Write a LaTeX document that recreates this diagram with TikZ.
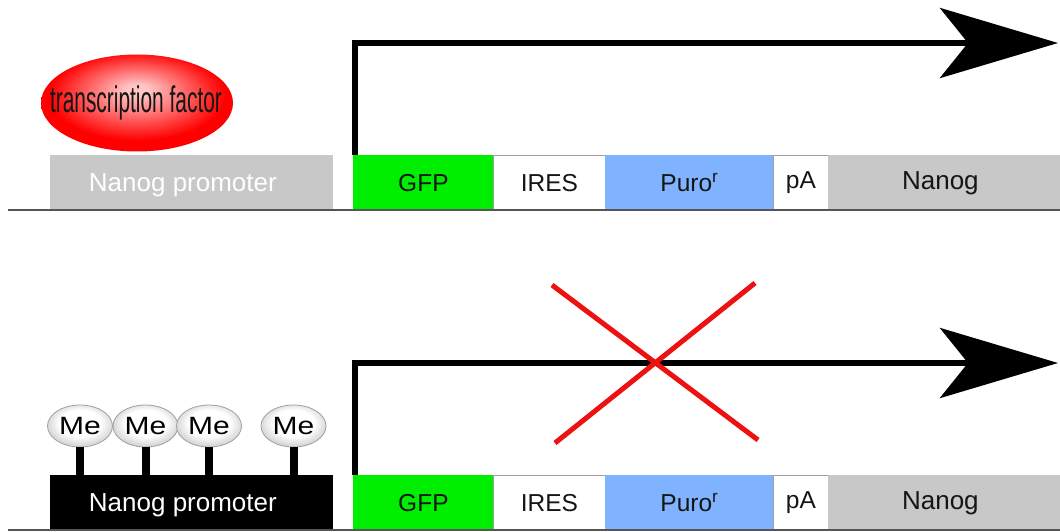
\documentclass[tikz,border=0pt]{standalone}
\usepackage{fontspec}
\setmainfont{Liberation Sans}
\usetikzlibrary{arrows.meta,shapes.geometric}

\definecolor{gfpgreen}{HTML}{00EE00}
\definecolor{puroblue}{HTML}{80B3FF}
\definecolor{boxgray}{HTML}{C8C8C8}
\definecolor{edgegray}{HTML}{A0A0A0}
\definecolor{dnagray}{HTML}{555555}
\definecolor{crossred}{HTML}{EE1111}
\definecolor{tfpink}{HTML}{FFC4C4}
\definecolor{megray}{HTML}{C4C4C4}
\definecolor{ink}{HTML}{151515}

% glossy fills, highlight a little above the centre
\pgfdeclareradialshading{tfglow}{\pgfpoint{0bp}{7bp}}{%
  color(0bp)=(tfpink); color(3bp)=(tfpink); color(23bp)=(red); color(50bp)=(red)}
\pgfdeclareradialshading{meglow}{\pgfpoint{0bp}{5bp}}{%
  color(0bp)=(white); color(16bp)=(white); color(30bp)=(megray); color(50bp)=(megray)}

\tikzset{
  lbl/.style={font=\fontsize{24.5}{28}\selectfont, text=ink},
  biglbl/.style={font=\fontsize{26}{30}\selectfont},
  seg/.style={rectangle, anchor=north west, inner sep=0pt, minimum height=55,
              draw=edgegray, line width=0.8pt, lbl},
  dna/.style={draw=dnagray, line width=1.8pt},
  tx/.style={draw=black, line width=6pt, line join=miter,
             -{Stealth[length=118pt, width=70pt, inset=28pt]}},
  tf/.style={ellipse, shading=tfglow, minimum width=192, minimum height=97, inner sep=0pt},
  me/.style={ellipse, shading=meglow, draw=edgegray, line width=0.8pt,
             minimum width=65, minimum height=42, inner sep=0pt},
  stem/.style={draw=black, line width=8pt},
  cross/.style={draw=crossred, line width=5pt},
}
\newcommand{\melabel}{\scalebox{1.2}[1]{\fontsize{25}{28}\selectfont Me}}

\begin{document}
\begin{tikzpicture}[x=1pt, y=-1pt]
\useasboundingbox (0,0) rectangle (1060,532);

% ---------- active locus ----------
\node[seg, fill=boxgray, draw=none, minimum width=283] (prom1) at (50,155) {};
\node[biglbl, text=white] at ([xshift=-9pt, yshift=-2pt]prom1.center) {Nanog promoter};
\node[seg, fill=gfpgreen, draw=none, minimum width=140] (gfp1) at (353,155) {GFP};
\node[seg, fill=white, minimum width=112] (ires1) at (493,155) {IRES};
\node[seg, fill=puroblue, draw=none, minimum width=168] (puro1) at (605,155) {Puro\textsuperscript{r}};
\node[seg, fill=white, minimum width=55] (pa1) at (773,155) {pA};
\node[seg, fill=boxgray, draw=none, minimum width=232] (nanog1) at (828,155) {};
\node[biglbl, text=ink] at ([xshift=-4pt]nanog1.center) {Nanog};

\coordinate (dna1) at (8,210);
\draw[dna] (dna1) -- (dna1 -| nanog1.east);

\node[tf] (tf) at (137,103) {};
\node[anchor=base, inner sep=0pt, text=ink] (tftext) at (136,113)
  {\scalebox{0.565}[1]{\fontsize{37}{42}\selectfont transcription factor}};

\coordinate (tip1) at (1058,43);
\draw[tx] ([xshift=2pt]gfp1.north west) |- (tip1);

% ---------- silenced locus ----------
\node[seg, fill=black, draw=none, minimum width=283] (prom2) at (50,475) {};
\node[biglbl, text=white] at ([xshift=-9pt, yshift=-2pt]prom2.center) {Nanog promoter};
\node[seg, fill=gfpgreen, draw=none, minimum width=140] (gfp2) at (353,475) {GFP};
\node[seg, fill=white, minimum width=112] (ires2) at (493,475) {IRES};
\node[seg, fill=puroblue, draw=none, minimum width=168] (puro2) at (605,475) {Puro\textsuperscript{r}};
\node[seg, fill=white, minimum width=55] (pa2) at (773,475) {pA};
\node[seg, fill=boxgray, draw=none, minimum width=232] (nanog2) at (828,475) {};
\node[biglbl, text=ink] at ([xshift=-4pt]nanog2.center) {Nanog};

\coordinate (dna2) at (8,530);
\draw[dna] (dna2) -- (dna2 -| nanog2.east);

% methyl groups on the promoter
\node[me] (me1) at (80,426) {\melabel};
\node[me] (me2) at (145.5,426) {\melabel};
\node[me] (me3) at (209,426) {\melabel};
\node[me] (me4) at (293.5,426) {\melabel};
\foreach \m in {me1,me2,me3,me4}
  \draw[stem] (\m.south) -- (\m.south |- prom2.north);

\coordinate (tip2) at (1058,363);
\draw[tx] ([xshift=2pt]gfp2.north west) |- (tip2);

% transcription blocked
\coordinate (xa) at (552,285);
\coordinate (xb) at (758,440);
\coordinate (xc) at (755,283);
\coordinate (xd) at (555,443);
\draw[cross] (xa) -- (xb);
\draw[cross] (xc) -- (xd);
\end{tikzpicture}
\end{document}
